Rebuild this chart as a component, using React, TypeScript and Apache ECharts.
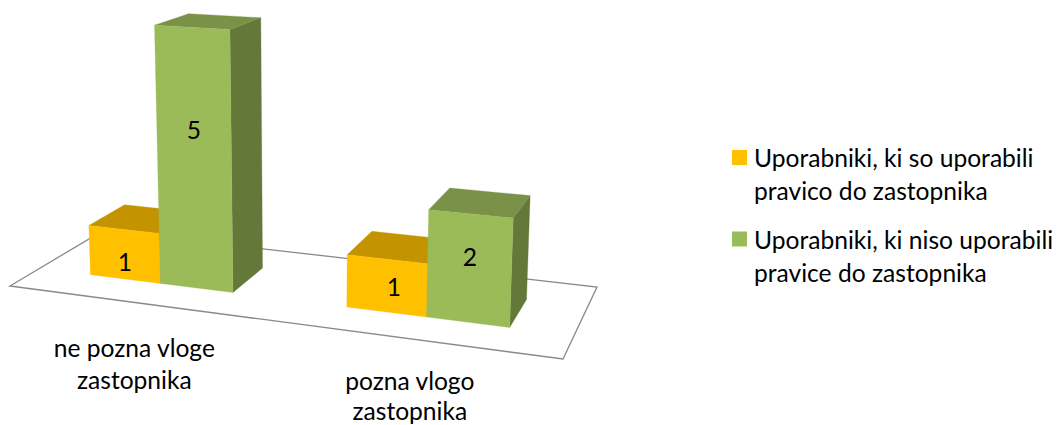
import React, { useEffect, useRef } from "react";
import * as echarts from "echarts";

const categories = ["ne pozna vloge\nzastopnika", "pozna vlogo\nzastopnika"];
const seriesNames = [
  "Uporabniki, ki so uporabili\npravico do zastopnika",
  "Uporabniki, ki niso uporabili\npravice do zastopnika",
];
const usedRight = [1, 1];
const notUsedRight = [5, 2];

const FONT = "Lato, 'Open Sans', sans-serif";
const FONT_SIZE = 24.6;
const TEXT = "#000000";

const colors = [
  { front: "#FFC000", top: "#C49300", side: "#9E7700" },
  { front: "#9BBB59", top: "#7A9247", side: "#64783A" },
];

// Hidden cartesian grid: supplies the category and value scales
const GRID = { left: 100, top: 50, width: 400, height: 300 };
const Y_MAX = 5;
// 3D projection of the floor (front-left, front-right, back-right, back-left)
const FLOOR = [[10, 286], [563, 359], [597, 287], [103, 230.6]];
const VANISH = [306, 6625];
const HEIGHT_K = -0.00787;
const DEPTH = [0.295, 0.697];
const BAR_BAND = 0.286; // one bar's width as a share of a category's band
const categoryLabelDrop = [45.5, 42];
const categoryLineGap = [31.5, 29.5];
// where each value label sits on its bar's front face: [across, up]
const labelAnchors = [
  [[0.5, 0.36], [0.5, 0.61]],
  [[0.585, 0.5], [0.5, 0.61]],
];

function homography() {
  const [[x0, y0], [x1, y1], [x2, y2], [x3, y3]] = FLOOR;
  const dx1 = x1 - x2, dx2 = x3 - x2, sx = x0 - x1 + x2 - x3;
  const dy1 = y1 - y2, dy2 = y3 - y2, sy = y0 - y1 + y2 - y3;
  const det = dx1 * dy2 - dx2 * dy1;
  const g = (sx * dy2 - dx2 * sy) / det;
  const h = (dx1 * sy - sx * dy1) / det;
  return {
    a: x1 - x0 + g * x1, b: x3 - x0 + h * x3, c: x0,
    d: y1 - y0 + g * y1, e: y3 - y0 + h * y3, f: y0,
    g, h,
  };
}
const H = homography();

function project(u: number, v: number, val: number): number[] {
  const k = HEIGHT_K * val;
  const X = H.a * u + H.b * v + H.c + k * VANISH[0];
  const Y = H.d * u + H.e * v + H.f + k * VANISH[1];
  const W = H.g * u + H.h * v + 1 + k;
  return [X / W, Y / W];
}

function toU(px: number) {
  return (px - GRID.left) / GRID.width;
}

function barRenderer(seriesIdx: number) {
  return (params: any, api: any) => {
    const cat = api.value(0);
    const base = api.coord([cat, 0]);
    const top = api.coord([cat, api.value(1)]);
    const band = api.size([1, 0])[0];
    const barW = band * BAR_BAND;
    const x0 = base[0] + (seriesIdx - 1) * barW;
    const u0 = toU(x0);
    const u1 = toU(x0 + barW);
    const val = ((base[1] - top[1]) / GRID.height) * Y_MAX;
    const [v0, v1] = DEPTH;
    const c = colors[seriesIdx];
    const poly = (pts: number[][], fill: string) => ({
      type: "polygon",
      shape: { points: pts },
      style: { fill, stroke: fill, lineWidth: 0.3 },
    });
    const fbl = project(u0, v0, 0), fbr = project(u1, v0, 0);
    const ftl = project(u0, v0, val), ftr = project(u1, v0, val);
    const btl = project(u0, v1, val), btr = project(u1, v1, val);
    const bbr = project(u1, v1, 0);
    const anchor = labelAnchors[cat][seriesIdx];
    const lb = [fbl[0] + (fbr[0] - fbl[0]) * anchor[0], fbl[1] + (fbr[1] - fbl[1]) * anchor[0]];
    const lt = [ftl[0] + (ftr[0] - ftl[0]) * anchor[0], ftl[1] + (ftr[1] - ftl[1]) * anchor[0]];
    return {
      type: "group",
      children: [
        poly([ftr, btr, bbr, fbr], c.side),
        poly([ftl, ftr, btr, btl], c.top),
        poly([fbl, fbr, ftr, ftl], c.front),
        {
          type: "text",
          style: {
            text: String(api.value(1)),
            x: lb[0] + (lt[0] - lb[0]) * anchor[1],
            y: lb[1] + (lt[1] - lb[1]) * anchor[1],
            align: "center",
            verticalAlign: "middle",
            font: `${FONT_SIZE}px ${FONT}`,
            fill: TEXT,
          },
        },
      ],
    };
  };
}

function floorRenderer() {
  return {
    type: "polygon",
    shape: { points: FLOOR },
    style: { fill: "#FFFFFF", stroke: "#898989", lineWidth: 1.3 },
  };
}

function categoryLabelRenderer(params: any, api: any) {
  const cat = api.value(0);
  const base = api.coord([cat, 0]);
  const p = project(toU(base[0]), 0, 0);
  return {
    type: "group",
    children: categories[cat].split("\n").map((line, i) => ({
      type: "text",
      style: {
        text: line,
        x: p[0],
        y: p[1] + categoryLabelDrop[cat] + i * categoryLineGap[cat],
        align: "center",
        verticalAlign: "middle",
        font: `${FONT_SIZE}px ${FONT}`,
        lineHeight: 22,
        fill: TEXT,
      },
    })),
  };
}

const legendIcon = "path://M0 0L0 0ZM0 9H15V24H0ZM17 66L17 66Z";

export default function App() {
  const ref = useRef<HTMLDivElement>(null);
  useEffect(() => {
    document.body.style.margin = "0";
    const chart = echarts.init(ref.current!, null, { renderer: "svg" });
    const catIdx = categories.map((_, i) => i);
    chart.setOption({
      animation: false,
      backgroundColor: "#FFFFFF",
      grid: { ...GRID },
      xAxis: { type: "category", data: categories, show: false },
      yAxis: { type: "value", min: 0, max: Y_MAX, interval: 1, show: false },
      legend: {
        orient: "vertical",
        left: 732,
        top: 141,
        padding: 0,
        itemWidth: 17,
        itemHeight: 66,
        itemGap: 15.5,
        selectedMode: false,
        data: seriesNames.map((name, i) => ({
          name,
          icon: legendIcon,
          itemStyle: { color: colors[i].front },
        })),
        textStyle: { fontFamily: FONT, fontSize: FONT_SIZE, lineHeight: 33, color: TEXT },
      },
      series: [
        {
          type: "custom",
          name: "floor",
          renderItem: floorRenderer,
          data: [[0, 0]],
          encode: { x: 0, y: 1 },
          silent: true,
          z: 1,
        },
        {
          type: "custom",
          name: seriesNames[0],
          renderItem: barRenderer(0),
          data: usedRight.map((v, i) => [catIdx[i], v]),
          encode: { x: 0, y: 1 },
          itemStyle: { color: colors[0].front },
          z: 2,
        },
        {
          type: "custom",
          name: seriesNames[1],
          renderItem: barRenderer(1),
          data: notUsedRight.map((v, i) => [catIdx[i], v]),
          encode: { x: 0, y: 1 },
          itemStyle: { color: colors[1].front },
          z: 3,
        },
        {
          type: "custom",
          name: "category labels",
          renderItem: categoryLabelRenderer,
          data: catIdx.map((i) => [i, 0]),
          encode: { x: 0, y: 1 },
          silent: true,
          z: 4,
        },
      ],
    });
    return () => chart.dispose();
  }, []);
  return <div ref={ref} style={{ width: 1060, height: 425 }} />;
}
